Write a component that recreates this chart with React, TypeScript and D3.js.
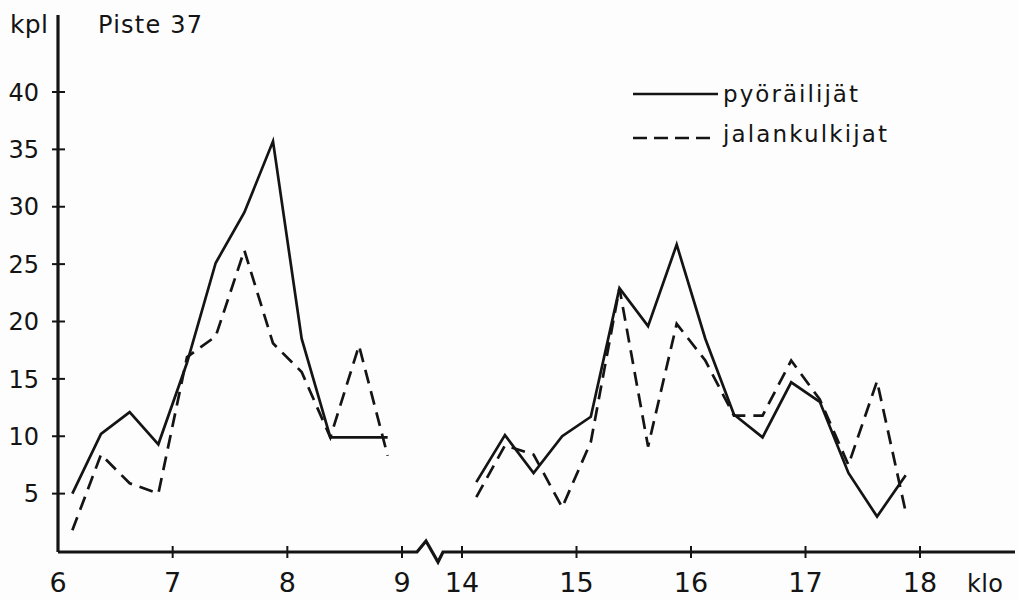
import React from "react";
import * as d3 from "d3";

// ---- data (counts per 15-minute interval, plotted at interval midpoints) ----
const morningTimes = [6.125, 6.375, 6.625, 6.875, 7.125, 7.375, 7.625, 7.875, 8.125, 8.375, 8.625, 8.875];
const cyclistsAM = [5, 10.2, 12.1, 9.3, 16.4, 25.1, 29.5, 35.7, 18.5, 9.9, 9.9, 9.9];
const pedestriansAM = [1.8, 8.4, 5.9, 5.0, 16.9, 18.7, 26.2, 18.1, 15.6, 9.9, 17.9, 8.3];

const afternoonTimes = [14.125, 14.375, 14.625, 14.875, 15.125, 15.375, 15.625, 15.875, 16.125, 16.375, 16.625, 16.875, 17.125, 17.375, 17.625, 17.875];
const cyclistsPM = [6.0, 10.1, 6.8, 10.0, 11.7, 22.9, 19.6, 26.7, 18.5, 11.9, 9.9, 14.7, 13.0, 6.8, 3.0, 6.6];
const pedestriansPM = [4.7, 9.2, 8.4, 3.8, 9.5, 22.9, 9.1, 19.8, 16.6, 11.8, 11.8, 16.6, 13.2, 7.5, 14.8, 3.4];

const yTicks = [5, 10, 15, 20, 25, 30, 35, 40];
const xTicks = [6, 7, 8, 9, 14, 15, 16, 17, 18];

const title = "Piste 37";
const yUnit = "kpl";
const xUnit = "klo";
const legendLabels = ["pyöräilijät", "jalankulkijat"];

const W = 1019;
const H = 600;
const INK = "#141414";
const FONT = "'DejaVu Sans', sans-serif";

export default function App() {
  const x = d3.scaleLinear().domain([6, 9, 14, 18]).range([58, 402, 462, 920]);
  const y = d3.scaleLinear().domain([0, 40]).range([551, 92]);

  const line = d3
    .line<[number, number]>()
    .x((d) => x(d[0]))
    .y((d) => y(d[1]));

  const zip = (t: number[], v: number[]) => t.map((tt, i) => [tt, v[i]] as [number, number]);

  const series = [
    { vals: [zip(morningTimes, cyclistsAM), zip(afternoonTimes, cyclistsPM)], dash: undefined },
    { vals: [zip(morningTimes, pedestriansAM), zip(afternoonTimes, pedestriansPM)], dash: "14 8" },
  ];

  const x0 = x(6);
  const yBase = y(0) + 1;
  const brkA = x(9) + 15;

  return (
    <svg
      width={W}
      height={H}
      style={{ position: "absolute", left: 0, top: 0, background: "#fdfdfd" }}
      fontFamily={FONT}
    >
      <rect x={0} y={0} width={W} height={H} fill="#fdfdfd" />

      {/* y axis */}
      <line x1={x0} y1={15} x2={x0} y2={yBase} stroke={INK} strokeWidth={3.2} />
      {yTicks.map((t) => (
        <g key={"y" + t}>
          <line x1={x0 - 6} x2={x0 + 7} y1={y(t)} y2={y(t)} stroke={INK} strokeWidth={2} />
          <text x={39} y={y(t)} dy="0.36em" textAnchor="end" fontSize={24} fill={INK}>
            {t}
          </text>
        </g>
      ))}

      {/* x axis, with break */}
      <path
        d={`M${x0},${yBase}H${brkA}L${brkA + 9},${yBase - 11}L${brkA + 21},${yBase + 10}L${brkA + 26},${yBase}H${1015}`}
        fill="none"
        stroke={INK}
        strokeWidth={3.2}
        strokeLinejoin="miter"
      />
      {xTicks.map((t) => (
        <g key={"x" + t}>
          {t !== 6 && (
            <line x1={x(t)} x2={x(t)} y1={yBase - 6} y2={yBase + 6} stroke={INK} strokeWidth={2} />
          )}
          <text x={x(t)} y={592} textAnchor="middle" fontSize={27} fill={INK}>
            {t}
          </text>
        </g>
      ))}
      <text x={967} y={592} fontSize={24} fill={INK} textLength={36} lengthAdjust="spacing">
        {xUnit}
      </text>

      {/* titles */}
      <text x={10} y={33} fontSize={25} fill={INK} textLength={38} lengthAdjust="spacing">
        {yUnit}
      </text>
      <text x={98} y={33} fontSize={24} fill={INK} textLength={104} lengthAdjust="spacing">
        {title}
      </text>

      {/* data lines */}
      {series.map((s, si) =>
        s.vals.map((seg, k) => (
          <path
            key={si + "-" + k}
            d={line(seg) || ""}
            fill="none"
            stroke={INK}
            strokeWidth={2.7}
            strokeDasharray={s.dash}
            strokeLinejoin="miter"
          />
        ))
      )}

      {/* legend */}
      <line x1={633} x2={718} y1={94} y2={94} stroke={INK} strokeWidth={2.5} />
      <text x={723} y={102} fontSize={23} fill={INK} textLength={135} lengthAdjust="spacing">
        {legendLabels[0]}
      </text>
      <line x1={633} x2={713} y1={138} y2={138} stroke={INK} strokeWidth={2.5} strokeDasharray="14 7" />
      <text x={723} y={142} fontSize={23} fill={INK} textLength={164} lengthAdjust="spacing">
        {legendLabels[1]}
      </text>
    </svg>
  );
}
